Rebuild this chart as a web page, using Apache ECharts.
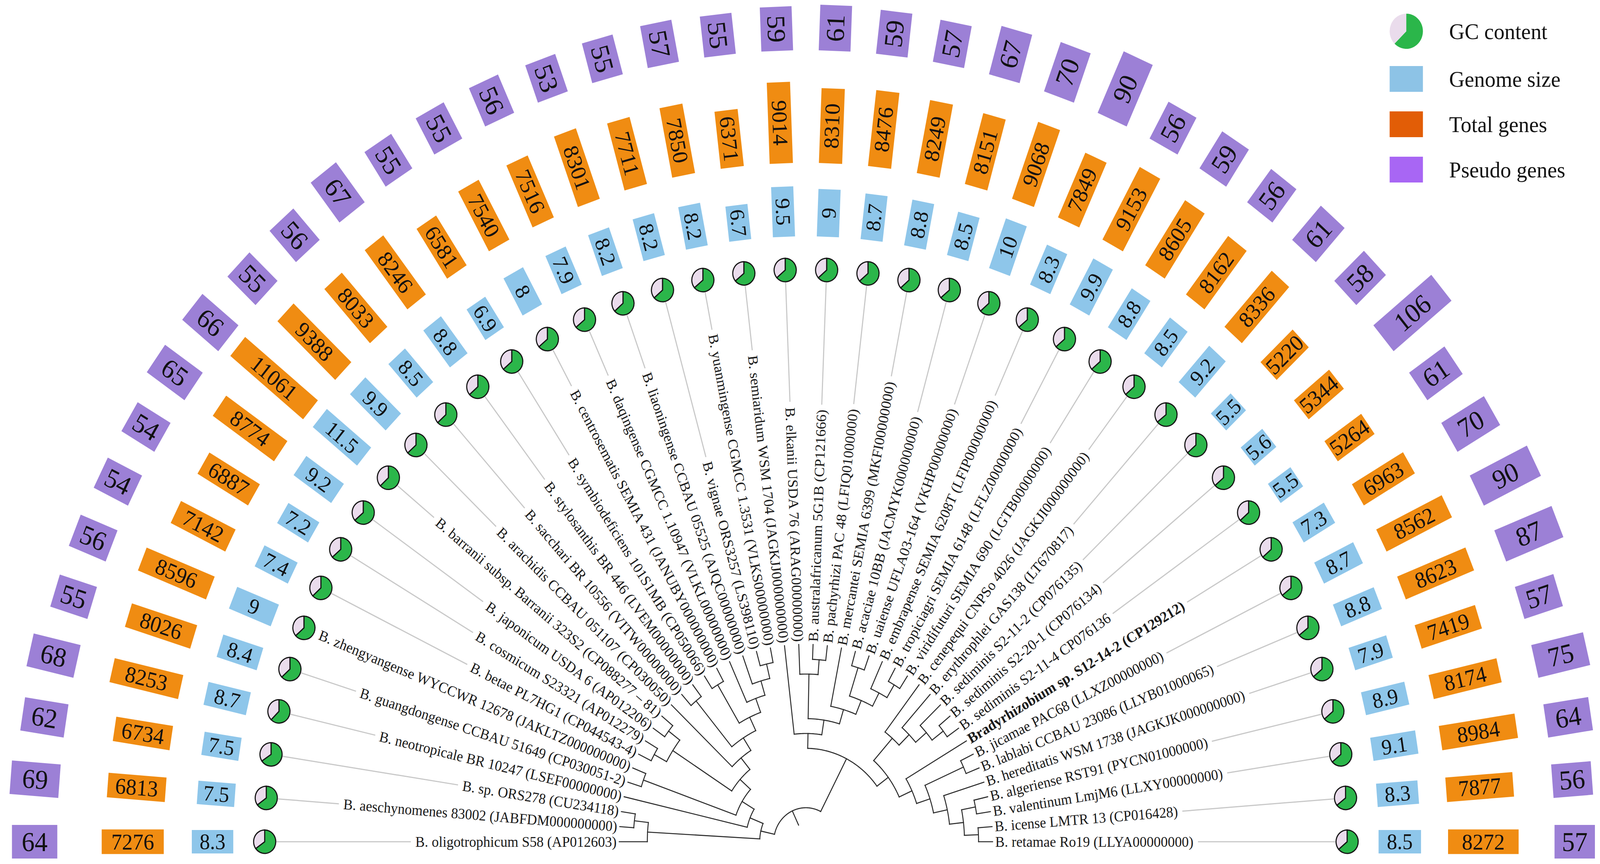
<!DOCTYPE html>
<html>
<head>
<meta charset="utf-8">
<title>Bradyrhizobium genome features</title>
<script src="https://cdn.jsdelivr.net/npm/echarts@6.0.0/dist/echarts.min.js"></script>
<style>
html, body { margin: 0; padding: 0; background: #fff; overflow: hidden; }
#chart { width: 4328px; height: 2211px; transform-origin: 0 0; }
</style>
</head>
<body>
<div id="chart"></div>
<script>
// strains, in tree order from the left (180deg) round to the right (0deg)
var species = [
    'B. oligotrophicum S58 (AP012603)',
    'B. aeschynomenes 83002 (JABFDM000000000)',
    'B. sp. ORS278 (CU234118)',
    'B. neotropicale BR 10247 (LSEF00000000)',
    'B. guangdongense CCBAU 51649 (CP030051-2)',
    'B. zhengyangense WYCCWR 12678 (JAKLTZ000000000)',
    'B. betae PL7HG1 (CP044543-4)',
    'B. cosmicum S23321 (AP012279)',
    'B. japonicum USDA 6 (AP012206)',
    'B. barranii subsp. Barranii 323S2 (CP088277 – 81)',
    'B. arachidis CCBAU 051107 (CP030050)',
    'B. sacchari BR 10556 (VITW00000000)',
    'B. stylosanthis BR 446 (LVEM00000000)',
    'B. symbiodeficiens 101S1MB (CP050066)',
    'B. centrosematis SEMIA 431 (JANUBY000000000)',
    'B. daqingense CGMCC 1.10947 (VLKL00000000)',
    'B. liaoningense CCBAU 05525 (AJQC00000000)',
    'B. vignae ORS3257 (LS398110)',
    'B. yuanmingense CGMCC 1.3531 (VLKS00000000)',
    'B. semiaridum WSM 1704 (JAGKJJ000000000)',
    'B. elkanii USDA 76 (ARAG00000000)',
    'B. australafricanum 5G1B (CP121666)',
    'B. pachyrhizi PAC 48 (LFIQ01000000)',
    'B. mercantei SEMIA 6399 (MKFI00000000)',
    'B. acaciae 10BB (JACMYK000000000)',
    'B. uaiense UFLA03-164 (VKHP00000000)',
    'B. embrapense SEMIA 6208T (LFIP00000000)',
    'B. tropiciagri SEMIA 6148 (LFLZ00000000)',
    'B. viridifuturi SEMIA 690 (LGTB00000000)',
    'B. cenepequi CNPSo 4026 (JAGKJI000000000)',
    'B. erythrophlei GAS138 (LT670817)',
    'B. sediminis S2-11-2 (CP076135)',
    'B. sediminis S2-20-1 (CP076134)',
    'B. sediminis S2-11-4 CP076136',
    'Bradyrhizobium sp. S12-14-2 (CP129212)',
    'B. jicamae PAC68 (LLXZ00000000)',
    'B. lablabi CCBAU 23086 (LLYB01000065)',
    'B. hereditatis WSM 1738 (JAGKJK000000000)',
    'B. algeriense RST91 (PYCN01000000)',
    'B. valentinum LmjM6 (LLXY00000000)',
    'B. icense LMTR 13 (CP016428)',
    'B. retamae Ro19 (LLYA00000000)'
];
var highlighted = 34;

// GC content (%), estimated from the pies
var gcContent = [65.1, 64.9, 65.5, 62.4, 63.2, 63.4, 63.1, 63.5, 63.7, 62.9, 63.3, 63.1, 63.4, 63.6,
    63.8, 63.9, 63.4, 63.5, 63.8, 63.9, 63.7, 63.6, 63.8, 63.5, 63.8, 63.6, 63.9, 63.8, 63.7, 63.6,
    64.2, 63.5, 63.6, 63.5, 63.5, 64.1, 64.3, 63.9, 63.7, 63.9, 64.3, 63.8];
// genome size (Mb)
var genomeSize = [8.3, 7.5, 7.5, 8.7, 8.4, 9, 7.4, 7.2, 9.2, 11.5, 9.9, 8.5, 8.8, 6.9, 8, 7.9, 8.2, 8.2,
    8.2, 6.7, 9.5, 9, 8.7, 8.8, 8.5, 10, 8.3, 9.9, 8.8, 8.5, 9.2, 5.5, 5.6, 5.5, 7.3, 8.7, 8.8, 7.9,
    8.9, 9.1, 8.3, 8.5];
// total genes
var totalGenes = [7276, 6813, 6734, 8253, 8026, 8596, 7142, 6887, 8774, 11061, 9388, 8033, 8246, 6581,
    7540, 7516, 8301, 7711, 7850, 6371, 9014, 8310, 8476, 8249, 8151, 9068, 7849, 9153, 8605, 8162,
    8336, 5220, 5344, 5264, 6963, 8562, 8623, 7419, 8174, 8984, 7877, 8272];
// pseudo genes
var pseudoGenes = [64, 69, 62, 68, 55, 56, 54, 54, 65, 66, 55, 56, 67, 55, 55, 56, 53, 55, 57, 55, 59,
    61, 59, 57, 67, 70, 90, 56, 59, 56, 61, 58, 106, 61, 70, 90, 87, 57, 75, 64, 56, 57];

// tree topology, leaves given by their index above
var cladePhoto = [[2, 1], 0];
var cladeJaponicum = [[[6, 7], [8, 9]], [10, [[11, 12], [[13, 14], [15, [16, [17, 18]]]]]]];
var cladeLeft = [cladePhoto, [3, [[4, 5], cladeJaponicum]]];
var cladeElkanii = [19, [[20, [21, 22]], [23, [[24, 25], [26, [27, 28]]]]]];
var cladeRight = [[29, [30, [31, [32, 33]]]], [34, [[35, 36], [37, [[38, 39], [40, 41]]]]]];
var treeTopology = [cladeLeft, [cladeElkanii, cladeRight]];

var legendItems = ['GC content', 'Genome size', 'Total genes', 'Pseudo genes'];

// layout (drawn on a 4328 x 2211 board, then fitted to the window)
var W = 4328, H = 2211;
var CX = 2180, CY = 2154;
var R_TIP = 505, TREE_STEP = 38, R_LABEL = 512, R_PIE = 1464, PIE_R = 30;
var R_BLUE = 1549, R_ORANGE = 1737, R_PURPLE = 2025;
var FONT = '"Liberation Serif", "Times New Roman", serif';

var measureCtx = document.createElement('canvas').getContext('2d');
function textWidth(str, font) {
    measureCtx.font = font;
    return measureCtx.measureText(str).width;
}

// tree edges as [r1, angle1, r2, angle2]
var treeEdges = [];
function layoutTree(node) {
    if (typeof node === 'number') {
        return { angle: node, height: 0, r: R_TIP };
    }
    var kids = node.map(layoutTree);
    var h = 1 + Math.max.apply(null, kids.map(function (k) { return k.height; }));
    var r = R_TIP - TREE_STEP * h;
    var angles = kids.map(function (k) { return k.angle; });
    var amin = Math.min.apply(null, angles), amax = Math.max.apply(null, angles);
    kids.forEach(function (k) {
        treeEdges.push([r, k.angle, k.r, k.angle]);
    });
    treeEdges.push([r, amin, r, amax]);
    return { angle: (amin + amax) / 2, height: h, r: r };
}
var rootNode = layoutTree(treeTopology);
treeEdges.push([rootNode.r, rootNode.angle, rootNode.r - 40, rootNode.angle]);

function radialAngle(api, i) {
    var pc = api.coord([0, i]);
    var p1 = api.coord([R_TIP, i]);
    return Math.atan2(pc[1] - p1[1], p1[0] - pc[0]);
}

function renderEdge(params, api) {
    var r1 = api.value(0), a1 = api.value(1), r2 = api.value(2), a2 = api.value(3);
    var pts = [];
    if (a1 === a2) {
        pts = [api.coord([r1, a1]), api.coord([r2, a2])];
    } else {
        var n = Math.max(2, Math.ceil(Math.abs(a2 - a1) * 6));
        for (var k = 0; k <= n; k++) {
            pts.push(api.coord([r1, a1 + (a2 - a1) * k / n]));
        }
    }
    return {
        type: 'polyline',
        shape: { points: pts },
        style: { stroke: '#2a2a2a', lineWidth: 2.6, fill: null, lineCap: 'square' }
    };
}

function renderLabel(params, api) {
    var i = api.value(1);
    var ang = radialAngle(api, i);
    var left = Math.cos(ang) < 0;
    var weight = i === highlighted ? 'bold ' : '';
    var font = weight + '38px ' + FONT;
    var w = textWidth(species[i], font);
    var p0 = api.coord([R_LABEL, i]);
    var pA = api.coord([R_LABEL + w + 12, i]);
    var pB = api.coord([R_PIE - PIE_R - 2, i]);
    return {
        type: 'group',
        children: [{
            type: 'line',
            shape: { x1: pA[0], y1: pA[1], x2: pB[0], y2: pB[1] },
            style: { stroke: '#c8c8c8', lineWidth: 3 }
        }, {
            type: 'text',
            x: p0[0], y: p0[1],
            rotation: left ? ang - Math.PI : ang,
            style: {
                text: species[i], font: font, fill: '#1a1a1a',
                align: left ? 'right' : 'left', verticalAlign: 'middle'
            }
        }]
    };
}

function pieShapes(cx, cy, r, frac) {
    var start = -Math.PI / 2, mid = start + Math.PI * 2 * frac;
    return [{
        type: 'sector',
        shape: { cx: cx, cy: cy, r: r, r0: 0, startAngle: start, endAngle: mid, clockwise: true },
        style: { fill: '#2bb64a', stroke: '#151515', lineWidth: 3 }
    }, {
        type: 'sector',
        shape: { cx: cx, cy: cy, r: r, r0: 0, startAngle: mid, endAngle: start + Math.PI * 2, clockwise: true },
        style: { fill: '#eadcec', stroke: '#151515', lineWidth: 3 }
    }];
}

function renderPie(params, api) {
    var i = api.value(1);
    var p = api.coord([R_PIE, i]);
    return { type: 'group', children: pieShapes(p[0], p[1], PIE_R, api.value(2) / 100) };
}

function barRenderer(color, width, fontSize, values) {
    return function (params, api) {
        var v = api.value(0), i = api.value(1);
        var p0 = api.coord([0, i]), p1 = api.coord([v, i]);
        var len = Math.sqrt(Math.pow(p1[0] - p0[0], 2) + Math.pow(p1[1] - p0[1], 2));
        var ang = Math.atan2(p0[1] - p1[1], p1[0] - p0[0]);
        var rot = Math.cos(ang) < 0 ? ang - Math.PI : ang;
        var txt = String(values[params.dataIndex]);
        var fs = fontSize;
        var tw = textWidth(txt, fs + 'px ' + FONT);
        if (tw > len - 4) {
            fs = fs * (len - 4) / tw;
        }
        return {
            type: 'group',
            x: (p0[0] + p1[0]) / 2, y: (p0[1] + p1[1]) / 2,
            rotation: rot,
            children: [{
                type: 'rect',
                shape: { x: -len / 2, y: -width / 2, width: len, height: width },
                style: { fill: color }
            }, {
                type: 'text',
                style: {
                    text: txt, x: 0, y: 0, align: 'center', verticalAlign: 'middle',
                    font: fs.toFixed(1) + 'px ' + FONT, fill: '#111'
                }
            }]
        };
    };
}

function ringSeries(name, polarIndex, values, color, width, fontSize) {
    return {
        name: name,
        type: 'custom',
        coordinateSystem: 'polar',
        polarIndex: polarIndex,
        silent: true,
        data: values.map(function (v, i) { return [v, i]; }),
        renderItem: barRenderer(color, width, fontSize, values)
    };
}

var legendColors = ['#2bb64a', '#8dc3e6', '#e25d06', '#a866f4'];
var legendGraphic = [];
legendItems.forEach(function (name, k) {
    var cy = [80, 202, 318, 434][k];
    if (k === 0) {
        pieShapes(3804, cy, 45, 0.625).forEach(function (s) {
            s.style.lineWidth = 0;
            s.style.stroke = null;
            legendGraphic.push(s);
        });
    } else {
        legendGraphic.push({
            type: 'rect',
            shape: { x: 3759, y: cy - 33, width: 90, height: 66 },
            style: { fill: legendColors[k] }
        });
    }
    legendGraphic.push({
        type: 'text', x: 3920, y: cy,
        style: { text: name, font: '58px ' + FONT, fill: '#111', verticalAlign: 'middle', align: 'left' }
    });
});

var polarIds = [0, 1, 2, 3];
var option = {
    backgroundColor: '#ffffff',
    animation: false,
    polar: [
        { center: [CX, CY], radius: [0, 2200] },
        { center: [CX, CY], radius: [R_BLUE, R_BLUE + 200] },
        { center: [CX, CY], radius: [R_ORANGE, R_ORANGE + 300] },
        { center: [CX, CY], radius: [R_PURPLE, R_PURPLE + 230] }
    ],
    angleAxis: polarIds.map(function (k) {
        return { polarIndex: k, type: 'value', min: 0, max: 82, startAngle: 180, clockwise: true, show: false };
    }),
    radiusAxis: [
        { polarIndex: 0, type: 'value', min: 0, max: 2200, show: false },
        { polarIndex: 1, type: 'value', min: 0, max: 14.8, show: false },
        { polarIndex: 2, type: 'value', min: 0, max: 13000, show: false },
        { polarIndex: 3, type: 'value', min: 0, max: 120, show: false }
    ],
    graphic: legendGraphic,
    series: [{
        name: 'tree',
        type: 'custom',
        coordinateSystem: 'polar',
        polarIndex: 0,
        silent: true,
        data: treeEdges,
        renderItem: renderEdge
    }, {
        name: 'labels',
        type: 'custom',
        coordinateSystem: 'polar',
        polarIndex: 0,
        silent: true,
        data: species.map(function (s, i) { return [R_LABEL, i]; }),
        renderItem: renderLabel
    }, {
        name: 'GC content',
        type: 'custom',
        coordinateSystem: 'polar',
        polarIndex: 0,
        silent: true,
        data: gcContent.map(function (g, i) { return [R_PIE, i, g]; }),
        renderItem: renderPie
    },
    ringSeries('Genome size', 1, genomeSize, '#8ec6ea', 60, 56),
    ringSeries('Total genes', 2, totalGenes, '#f08c12', 63, 58),
    ringSeries('Pseudo genes', 3, pseudoGenes, '#9c80d6', 86, 70)
    ]
};

// the window may be narrower than the board: fit the board into it
var chartEl = document.getElementById('chart');
var sx = Math.min(1, window.innerWidth / W), sy = Math.min(1, window.innerHeight / H);
chartEl.style.transform = 'scale(' + sx + ',' + sy + ')';

var chart = echarts.init(chartEl, null, { renderer: 'svg' });
chart.setOption(option);
</script>
</body>
</html>
